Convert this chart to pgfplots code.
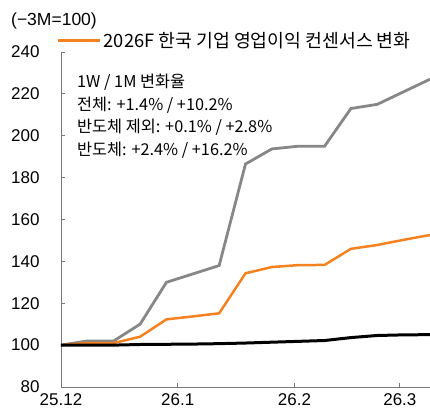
\documentclass[border=0pt]{standalone}
\usepackage{pgfplots}
\pgfplotsset{compat=1.18}
\usepackage{fontspec}
\setmainfont{Liberation Sans}
\newfontfamily\kr{Noto Sans CJK KR}
\definecolor{lineorange}{RGB}{245,130,32}
\definecolor{linegray}{RGB}{135,135,135}
\definecolor{axisgray}{RGB}{120,120,120}

\begin{document}
\begin{tikzpicture}
\begin{axis}[
    name=ax,
    scale only axis,
    width=369pt, height=335pt,
    xmin=0, xmax=98,
    ymin=80, ymax=240,
    ytick={80,100,...,240},
    xtick={0,31,62,90},
    xticklabels={25.12,26.1,26.2,26.3},
    axis x line*=bottom, axis y line*=left,
    axis line style={axisgray, line width=0.9pt},
    tick style={axisgray, line width=0.9pt},
    tick align=inside,
    major tick length=4pt,
    tick label style={font=\fontsize{17}{20}\selectfont},
    /pgf/number format/assume math mode=true,
    xticklabel style={yshift=-3pt},
    yticklabel style={xshift=-18pt},
    legend style={draw=none, fill=none, at={(0,1)}, anchor=south west,
        xshift=-4pt, yshift=1pt, font=\fontsize{18.3}{20}\selectfont\kr,
        inner sep=0pt},
    legend cell align=left,
    legend image code/.code={\draw[#1, line width=2.5pt] (0pt,0pt) -- (42pt,0pt);},
    clip mode=individual,
]
\addplot[linegray, line width=2.8pt, forget plot] coordinates {
(0,100) (7,102) (14,102) (21,110) (28,130) (35,134) (42,138)
(49,186.5) (56,193.7) (63,195) (70,195) (77,213) (84,215) (91,221) (98,227)};
\addplot[lineorange, line width=2.5pt] coordinates {
(0,100) (7,101) (14,101) (21,104) (28,112.3) (35,113.7) (42,115.2)
(49,134.3) (56,137.3) (63,138.2) (70,138.3) (77,146) (84,147.8) (91,150.3) (98,152.6)};
\addlegendentry{2026F 한국 기업 영업이익 컨센서스 변화}
\addplot[black, line width=3pt, forget plot] coordinates {
(0,100) (7,100) (14,100) (21,100.3) (28,100.4) (35,100.5) (42,100.7)
(49,101) (56,101.4) (63,101.8) (70,102.2) (77,103.6) (84,104.6) (91,104.9) (98,105)};
\node[anchor=west, font=\fontsize{17.5}{20}\selectfont, inner sep=0pt] at (rel axis cs:0,1) [xshift=-50pt, yshift=31pt] {(−3M=100)};
\node[anchor=north west, align=left, font=\fontsize{16.3}{22.5}\selectfont\kr, inner sep=0pt]
  at (rel axis cs:0,1) [xshift=16pt, yshift=-22pt]
  {1W / 1M 변화율\\전체: +1.4\% / +10.2\%\\반도체 제외: +0.1\% / +2.8\%\\반도체: +2.4\% / +16.2\%};
\end{axis}
\pgfresetboundingbox
\path[use as bounding box] ([shift={(-61pt,-27pt)}]ax.south west) rectangle ([shift={(0pt,52pt)}]ax.north east);
\end{tikzpicture}
\end{document}
